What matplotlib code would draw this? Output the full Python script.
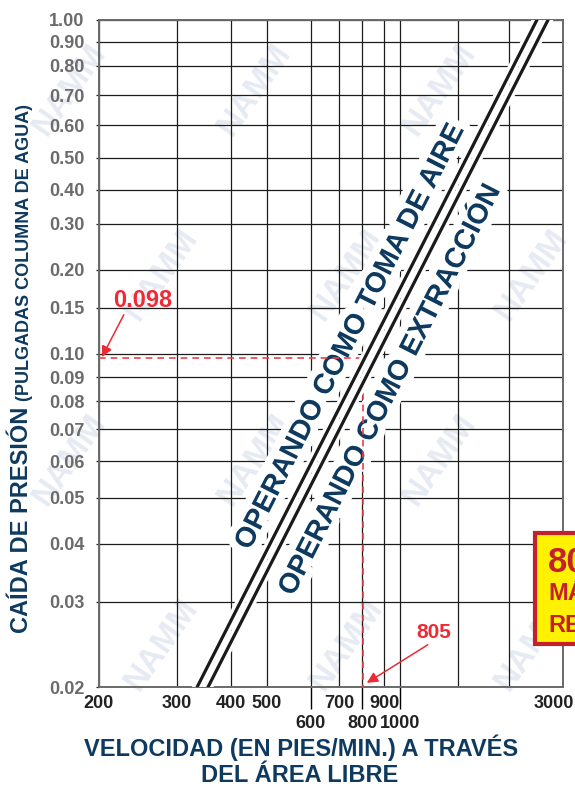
import numpy as np
import matplotlib
matplotlib.use('Agg')
import matplotlib.pyplot as plt
import matplotlib.transforms as mtransforms
from matplotlib import patheffects as pe
from matplotlib.patches import Rectangle

plt.rcParams['font.family'] = ['Liberation Sans', 'DejaVu Sans']
plt.rcParams['font.weight'] = 'bold'

# ---- data ----
x_ticks = [200, 300, 400, 500, 600, 700, 800, 900, 1000, 1500, 2000, 3000]
x_labels = ['200', '300', '400', '500', '600', '700', '800', '900', '1000', '', '', '3000']
x_low_row = [600, 800, 1000]

y_ticks = [0.02, 0.03, 0.04, 0.05, 0.06, 0.07, 0.08, 0.09, 0.10, 0.15, 0.20,
           0.30, 0.40, 0.50, 0.60, 0.70, 0.80, 0.90, 1.00]
y_labels = ['%.2f' % v for v in y_ticks]

# the printed grid is not a true log grid: calibration of each grid line (px)
x_grid_px = [99, 177, 231, 267, 311, 339, 362, 384, 400, 458, 509, 563]
y_grid_px = [687, 602, 544, 498, 461, 429, 401, 377, 354, 308, 270,
             224, 190, 158, 125, 95, 66, 42, 20]

toma_x = [334, 2466]      # operando como toma de aire
toma_y = [0.02, 1.00]
extr_x = [354, 2680]      # operando como extracción
extr_y = [0.02, 1.00]

op_vel = 805
op_drop = 0.098

NAVY = '#0e3a5f'
RED = '#ee2a35'
DASH = '#ef3e4a'
GRID = '#1c1c1c'


def chart_scale(vals, px):
    lv = np.log10(vals)
    px = np.asarray(px, float)
    frac = (px - px[0]) / (px[-1] - px[0])

    def fwd(v):
        v = np.clip(np.asarray(v, float), 1e-9, None)
        return np.interp(np.log10(v), lv, frac)

    def inv(u):
        return 10 ** np.interp(u, frac, lv)
    return fwd, inv


fig = plt.figure(figsize=(5.75, 7.87), dpi=100)
W, H = 575, 787
ax = fig.add_axes([99 / W, 100 / H, 464 / W, 667 / H])
ax.patch.set_alpha(0)

ax.set_xscale('function', functions=chart_scale(x_ticks, x_grid_px))
ax.set_yscale('function', functions=chart_scale(y_ticks, y_grid_px))
ax.set_xlim(200, 3000)
ax.set_ylim(0.02, 1.0)

ax.set_xticks(x_ticks, labels=x_labels)
ax.set_yticks(y_ticks, labels=y_labels)
ax.minorticks_off()
ax.grid(True, color=GRID, lw=0.9)
for s in ax.spines.values():
    s.set_color('#6a6a6a')
    s.set_linewidth(1.4)

ax.tick_params(axis='y', length=2.2, width=0.9, color=GRID, pad=8.5,
               labelsize=13, labelcolor='#6b6b6b')
ax.tick_params(axis='x', length=0, pad=5.6, labelsize=13, labelcolor='#222222')
# second row of velocity labels hangs on longer ticks
for tick, val in zip(ax.xaxis.get_major_ticks(), x_ticks):
    if val in x_low_row:
        tick.set_pad(20.5)
        tick.tick1line.set_markersize(16)
        tick.tick1line.set_markeredgewidth(1.0)
        tick.tick1line.set_color(GRID)
lab3000 = ax.get_xticklabels()[-1]
lab3000.set_transform(lab3000.get_transform() +
                      mtransforms.ScaledTranslation(-9 / 100, 0, fig.dpi_scale_trans))

# ---- curves ----
halo = [pe.Stroke(linewidth=7, foreground='white'), pe.Normal()]
ax.plot(toma_x, toma_y, color='#1a1a1a', lw=2.3, zorder=4, path_effects=halo)
ax.plot(extr_x, extr_y, color='#1a1a1a', lw=2.3, zorder=4, path_effects=halo)

# ---- curve labels along the lines ----
text_halo = [pe.Stroke(linewidth=11, foreground='white'), pe.Normal()]


def label_along(xs, ys, txt, t, offset):
    p0 = ax.transData.transform((xs[0], ys[0]))
    p1 = ax.transData.transform((xs[1], ys[1]))
    d = p1 - p0
    u = d / np.hypot(*d)
    perp = np.array([-u[1], u[0]])
    p = p0 + t * d + offset * perp
    xd, yd = ax.transData.inverted().transform(p)
    ang = np.degrees(np.arctan2(d[1], d[0]))
    ax.text(xd, yd, txt, rotation=ang, rotation_mode='anchor', ha='center',
            va='center', fontsize=20.5, color=NAVY, zorder=3,
            path_effects=text_halo)


label_along(toma_x, toma_y, 'OPERANDO COMO TOMA DE AIRE', 0.51, 22)
label_along(extr_x, extr_y, 'OPERANDO COMO EXTRACCIÓN', 0.464, -28)

# ---- operating point ----
ax.plot([200, op_vel], [op_drop, op_drop], color=DASH, lw=1.2,
        dashes=(4, 3), zorder=3.5)
ax.plot([op_vel, op_vel], [op_drop, 0.02], color=DASH, lw=1.2,
        dashes=(4, 3), zorder=3.5)

arrow = dict(arrowstyle='-|>', color=RED, lw=1.1, mutation_scale=16,
             shrinkA=0, shrinkB=0)
ax.annotate('%.3f' % op_drop, xy=(203, 0.0986), xytext=(143, H - 307),
            textcoords='figure pixels', ha='center', va='baseline',
            fontsize=17, color=RED, zorder=6,
            arrowprops=dict(arrow, relpos=(0.2, 0.0)))
ax.annotate('%d' % op_vel, xy=(821, 0.0204), xytext=(434, H - 638),
            textcoords='figure pixels', ha='center', va='baseline',
            fontsize=15, color=RED, zorder=6,
            arrowprops=dict(arrow, relpos=(0.45, 0.0)))

# ---- axis titles ----
fig.text(28 / W, (H - 633) / H, 'CAÍDA DE PRESIÓN', rotation=90,
         rotation_mode='anchor', ha='left', va='baseline', fontsize=17,
         color=NAVY)
fig.text(29 / W, (H - 401) / H, '(PULGADAS COLUMNA DE AGUA)', rotation=90,
         rotation_mode='anchor', ha='left', va='baseline', fontsize=13,
         color=NAVY)
fig.text(301 / W, 31 / H, 'VELOCIDAD (EN PIES/MIN.) A TRAVÉS', ha='center',
         va='baseline', fontsize=17, color=NAVY)
fig.text(300 / W, 5 / H, 'DEL ÁREA LIBRE', ha='center', va='baseline',
         fontsize=17, color=NAVY)

# ---- recommended-velocity box (cut by the right edge, as in the source) ----
fig.add_artist(Rectangle((535 / W, (H - 644) / H), 0.2, 111 / H,
                         transform=fig.transFigure, facecolor='#fff200',
                         edgecolor='#c41f2d', lw=3, zorder=5))
fig.text(548 / W, (H - 572) / H, '800', fontsize=25, color='#c41f2d',
         va='baseline', zorder=6)
fig.text(548 / W, (H - 600) / H, 'MÁXIMO', fontsize=17, color='#c41f2d',
         va='baseline', zorder=6)
fig.text(548 / W, (H - 632) / H, 'RECOMENDADO', fontsize=17, color='#c41f2d',
         va='baseline', zorder=6)

# ---- faint watermark ----
for r in range(4):
    for c in range(3):
        cx = 70 + 185 * c + (92 if r % 2 else 0)
        cy = 90 + 185 * r
        fig.text(cx / W, (H - cy) / H, 'NAMM', rotation=55, ha='center',
                 va='center', fontsize=24, color='#e6ebf3', zorder=-5)

fig.savefig('out.png', dpi=100)
